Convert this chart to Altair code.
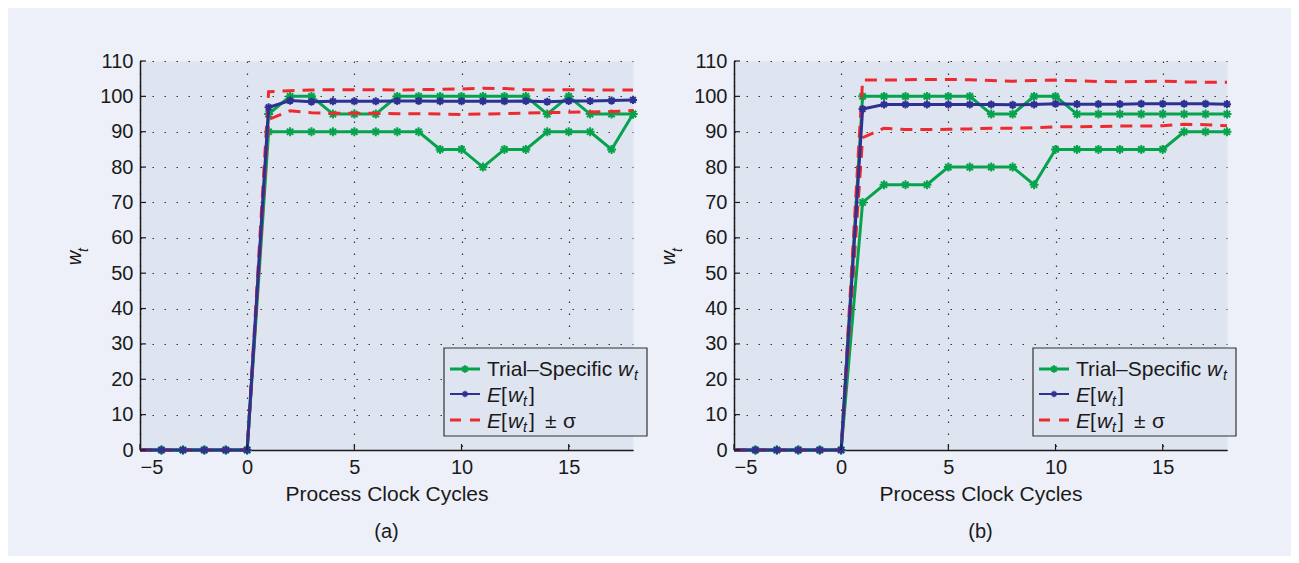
import altair as alt
import pandas as pd

# ---------------- data ----------------
X_VALUES = [-5, -4, -3, -2, -1, 0, 1, 2, 3, 4, 5, 6, 7, 8, 9, 10, 11, 12, 13, 14, 15, 16, 17, 18]

A_TRIAL_HI = [0, 0, 0, 0, 0, 0, 95, 100, 100, 95, 95, 95, 100, 100, 100, 100, 100, 100, 100, 95, 100, 95, 95, 95]
A_TRIAL_LO = [0, 0, 0, 0, 0, 0, 90, 90, 90, 90, 90, 90, 90, 90, 85, 85, 80, 85, 85, 90, 90, 90, 85, 95]
A_MEAN = [0, 0, 0, 0, 0, 0, 96.9, 98.8, 98.5, 98.6, 98.6, 98.6, 98.7, 98.7, 98.6, 98.6, 98.6, 98.6, 98.7, 98.5, 98.7, 98.7, 98.8, 99.0]
A_UPPER = [0, 0, 0, 0, 0, 0, 101.3, 101.6, 101.8, 101.9, 101.9, 101.9, 101.8, 101.9, 102.0, 102.1, 102.3, 102.2, 101.9, 101.8, 101.9, 101.8, 101.8, 101.8]
A_LOWER = [0, 0, 0, 0, 0, 0, 93.5, 95.9, 95.4, 95.2, 95.2, 95.2, 95.1, 95.1, 95.0, 94.9, 95.0, 95.1, 95.3, 95.4, 95.5, 95.6, 95.7, 96.0]

B_TRIAL_HI = [0, 0, 0, 0, 0, 0, 100, 100, 100, 100, 100, 100, 95, 95, 100, 100, 95, 95, 95, 95, 95, 95, 95, 95]
B_TRIAL_LO = [0, 0, 0, 0, 0, 0, 70, 75, 75, 75, 80, 80, 80, 80, 75, 85, 85, 85, 85, 85, 85, 90, 90, 90]
B_MEAN = [0, 0, 0, 0, 0, 0, 96.4, 97.7, 97.7, 97.7, 97.7, 97.7, 97.7, 97.6, 97.7, 97.9, 97.8, 97.8, 97.8, 97.9, 97.9, 97.9, 97.9, 97.8]
B_UPPER = [0, 0, 0, 0, 0, 0, 104.6, 104.6, 104.7, 104.8, 104.8, 104.7, 104.5, 104.3, 104.5, 104.6, 104.4, 104.2, 104.1, 104.2, 104.3, 104.1, 104.0, 104.0]
B_LOWER = [0, 0, 0, 0, 0, 0, 88.3, 91.0, 90.6, 90.6, 90.7, 90.8, 91.0, 91.0, 91.1, 91.4, 91.4, 91.5, 91.6, 91.6, 91.7, 92.1, 92.0, 91.7]

X_TICKS = [-5, 0, 5, 10, 15]
Y_TICKS = [0, 10, 20, 30, 40, 50, 60, 70, 80, 90, 100, 110]
PANEL_LABELS = ["(a)", "(b)"]
X_TITLE = "Process Clock Cycles"

# ---------------- style ----------------
FONT = "Liberation Sans"
GREEN = "#05a34c"
BLUE = "#2e3192"
RED = "#ee2a2e"
BG = "#edf0f8"
PLOT_BG = "#dfe4f1"
INK = "#1a1a1a"
W, H = 493, 389
LF = 21  # legend font size
ASTER = "M-1,0L1,0M0,-1L0,1M-0.7,-0.7L0.7,0.7M-0.7,0.7L0.7,-0.7"

ONE = pd.DataFrame({"k": [0]})


def long_df(hi, lo, mean, up, low):
    rows = []
    for name, vals in [("hi", hi), ("lo", lo), ("mean", mean), ("up", up), ("low", low)]:
        for x, v in zip(X_VALUES, vals):
            rows.append({"x": x, "v": v, "s": name})
    return pd.DataFrame(rows)


def txt(s, x, y, size=LF, italic=False, angle=0, align="left"):
    kw = dict(font=FONT, fontSize=size, color=INK, baseline="alphabetic", align=align)
    if italic:
        kw["fontStyle"] = "italic"
    if angle:
        kw["angle"] = angle
    return alt.Chart(ONE).mark_text(**kw).encode(
        x=alt.value(x), y=alt.value(y), text=alt.value(s)
    )


def panel(df, dx, label):
    xenc = alt.X(
        "x:Q",
        scale=alt.Scale(domain=[-5, 18], nice=False, zero=False),
        axis=alt.Axis(values=X_TICKS, title=X_TITLE),
    )
    yenc = alt.Y(
        "v:Q",
        scale=alt.Scale(domain=[0, 110], nice=False),
        axis=alt.Axis(values=Y_TICKS, title=None),
    )
    base = alt.Chart(df).encode(x=xenc, y=yenc)
    layers = []
    # trials (green)
    for s in ["hi", "lo"]:
        sub = base.transform_filter(alt.datum.s == s)
        layers.append(sub.mark_line(color=GREEN, strokeWidth=3))
        layers.append(
            sub.transform_filter(alt.datum.x >= -4).mark_point(
                shape=ASTER, size=80, filled=False, stroke=GREEN, strokeWidth=2, opacity=1
            )
        )
    # mean +- sigma (red dashed)
    for s in ["up", "low"]:
        sub = base.transform_filter(alt.datum.s == s)
        layers.append(sub.mark_line(color=RED, strokeWidth=3, strokeDash=[12, 8]))
    # mean (blue)
    sub = base.transform_filter(alt.datum.s == "mean")
    layers.append(sub.mark_line(color=BLUE, strokeWidth=3))
    layers.append(
        sub.transform_filter(alt.datum.x >= -4).mark_point(
            shape=ASTER, size=65, filled=False, stroke=BLUE, strokeWidth=2, opacity=1
        )
    )

    # inward ticks (same fields/encodings so the axes merge)
    layers.append(
        alt.Chart(pd.DataFrame({"v": Y_TICKS})).mark_rule(color=INK, strokeWidth=1.2).encode(
            y=yenc, x=alt.value(0), x2=alt.value(6)
        )
    )
    layers.append(
        alt.Chart(pd.DataFrame({"x": X_TICKS})).mark_rule(color=INK, strokeWidth=1.2).encode(
            x=xenc, y=alt.value(H), y2=alt.value(H - 6)
        )
    )

    # legend box
    lx0 = 304 + dx
    lx1 = 507 + dx
    layers.append(
        alt.Chart(ONE).mark_rect(fill=PLOT_BG, stroke="#333333", strokeWidth=1.2).encode(
            x=alt.value(lx0), x2=alt.value(lx1), y=alt.value(287), y2=alt.value(375)
        )
    )
    sx0, sx1 = lx0 + 6, lx0 + 36
    sc = (sx0 + sx1) / 2
    tx = lx0 + 43
    # row 1
    layers.append(alt.Chart(ONE).mark_rule(color=GREEN, strokeWidth=3).encode(
        x=alt.value(sx0), x2=alt.value(sx1), y=alt.value(308)))
    layers.append(alt.Chart(ONE).mark_point(shape=ASTER, size=55, filled=False, stroke=GREEN,
                                            strokeWidth=2, opacity=1).encode(
        x=alt.value(sc), y=alt.value(308)))
    layers.append(txt("Trial\u2013Specific", tx, 315))
    layers.append(txt("w", tx + 131, 315, italic=True))
    layers.append(txt("t", tx + 147, 319, size=14, italic=True))
    # row 2
    layers.append(alt.Chart(ONE).mark_rule(color=BLUE, strokeWidth=2).encode(
        x=alt.value(sx0), x2=alt.value(sx1), y=alt.value(333)))
    layers.append(alt.Chart(ONE).mark_point(shape=ASTER, size=40, filled=False, stroke=BLUE,
                                            strokeWidth=1.5, opacity=1).encode(
        x=alt.value(sc), y=alt.value(333)))
    layers.append(txt("E", tx, 341, italic=True))
    layers.append(txt("[", tx + 14, 341))
    layers.append(txt("w", tx + 21, 341, italic=True))
    layers.append(txt("t", tx + 36, 345, size=14, italic=True))
    layers.append(txt("]", tx + 42, 341))
    # row 3
    layers.append(alt.Chart(ONE).mark_rule(color=RED, strokeWidth=3, strokeDash=[11, 9]).encode(
        x=alt.value(sx0), x2=alt.value(sx1), y=alt.value(359)))
    layers.append(txt("E", tx, 367, italic=True))
    layers.append(txt("[", tx + 14, 367))
    layers.append(txt("w", tx + 21, 367, italic=True))
    layers.append(txt("t", tx + 36, 371, size=14, italic=True))
    layers.append(txt("]", tx + 42, 367))
    layers.append(txt("\u00b1", tx + 58, 367))
    layers.append(txt("\u03c3", tx + 76, 367))

    # y-axis title (w_t)
    layers.append(txt("w", -59, 197, size=20, italic=True, angle=270, align="center"))
    layers.append(txt("t", -52, 189, size=14, italic=True, angle=270, align="center"))

    # panel label
    layers.append(txt(label, W / 2, 477, size=20, align="center"))

    return alt.layer(*layers).properties(width=W, height=H)


pa = panel(long_df(A_TRIAL_HI, A_TRIAL_LO, A_MEAN, A_UPPER, A_LOWER), 0, PANEL_LABELS[0])
pb = panel(long_df(B_TRIAL_HI, B_TRIAL_LO, B_MEAN, B_UPPER, B_LOWER), -5, PANEL_LABELS[1])

chart = (
    alt.hconcat(pa, pb, spacing=9)
    .properties(
        background=BG,
        padding={"left": 56, "top": 42, "right": 53, "bottom": 13},
    )
    .configure_view(stroke="transparent", fill=PLOT_BG)
    .configure_axis(
        domainColor=INK,
        domainWidth=1.5,
        ticks=False,
        labelFont=FONT,
        labelFontSize=20,
        labelColor=INK,
        labelPadding=7,
        titleFont=FONT,
        titleFontSize=21,
        titleFontWeight="normal",
        titleColor=INK,
        titlePadding=6,
        grid=True,
        gridColor="#222222",
        gridDash=[1.5, 10.5],
        gridWidth=1.2,
        gridOpacity=0.9,
    )
)

chart.save("out.html", embed_options={"renderer": "svg", "actions": False})
